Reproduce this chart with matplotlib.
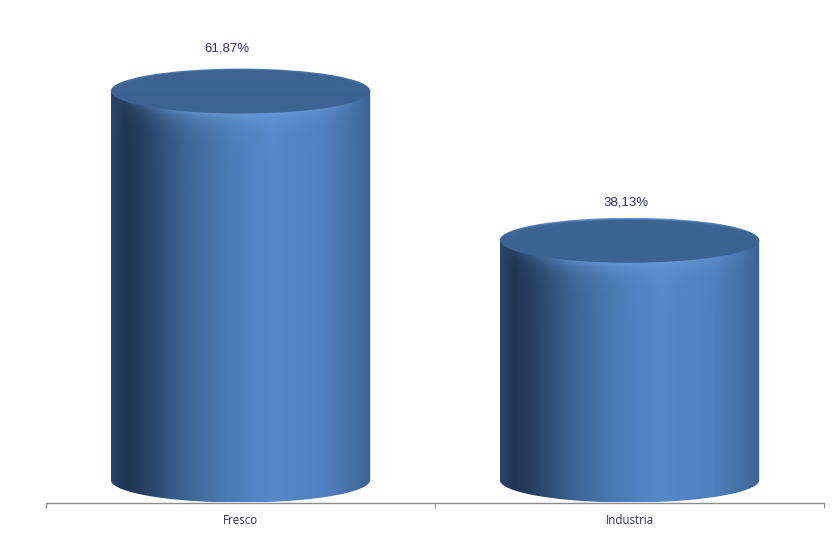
import numpy as np
from matplotlib import pyplot as plt
from matplotlib.colors import LinearSegmentedColormap, to_rgb
from matplotlib.patches import Ellipse, PathPatch
from matplotlib.path import Path

categories = ['Fresco', 'Industria']
values = [61.87, 38.13]
value_labels = ['61,87%', '38,13%']

txtcol = '#2f2d72'
shade = LinearSegmentedColormap.from_list('cyl', [
    (0.0, '#2a4568'), (0.05, '#1f3553'), (0.12, '#263f60'), (0.28, '#3d6494'),
    (0.45, '#4a7cb6'), (0.62, '#5689cb'), (0.82, '#4f80bf'), (0.93, '#4571a8'),
    (1.0, '#3c6493')])
topcol = np.array(to_rgb('#3c6392'))
rimcol = np.array(to_rgb('#6d9fdc'))

W, H = 839, 538
fig = plt.figure(figsize=(W/100, H/100), dpi=100)
# axes runs from the axis line (y=502.5px) up to the top of the picture
ax = fig.add_axes([46/W, 1-502.5/H, 778/W, 502.5/H])
pxy = 6.287                     # pixels per percent
pxx = 389.0                     # pixels per category
ax.set_xlim(-0.5, 1.5)
ax.set_ylim(-22.5/pxy, 480/pxy)
rx = 129.7/pxx
ry = 22.5/pxy

for i, v in enumerate(values):
    # body : rectangle + lower half of the base ellipse
    t = np.linspace(np.pi, 2*np.pi, 60)
    verts = [(i-rx, v), (i-rx, 0)] + list(zip(i+rx*np.cos(t), ry*np.sin(t))) + [(i+rx, v), (i-rx, v)]
    body = PathPatch(Path(verts), fc='none', ec='none')
    ax.add_patch(body)
    xs = np.linspace(-1, 1, 260)
    ys = np.linspace(v+ry, -ry, int((v+2*ry)*pxy))
    X, Y = np.meshgrid(xs, ys)
    img = shade((X+1)/2)[:, :, :3]
    # bright band just under the front edge of the top ellipse
    edge = v-ry*np.sqrt(np.clip(1-X**2, 0, 1))
    d = np.clip(edge-Y, 0, None)*pxy
    glow = np.exp(-d/9.0)*np.clip(1-X**2, 0, 1)**1.2*0.8
    img = img*(1-glow[..., None])+rimcol*glow[..., None]
    im = ax.imshow(img, extent=(i-rx, i+rx, -ry, v+ry), aspect='auto', origin='upper',
                   interpolation='bilinear', zorder=2)
    im.set_clip_path(body)

    # top ellipse : flat colour with a lighter rim at the back
    top = Ellipse((i, v), 2*rx, 2*ry, fc='none', ec='none')
    ax.add_patch(top)
    ys2 = np.linspace(1, -1, 48)
    X2, Y2 = np.meshgrid(xs, ys2)
    r = np.sqrt(X2**2+Y2**2)
    rim = np.clip((r-0.90)/0.10, 0, 1)**2*np.clip(Y2, 0, 1)**2*0.9
    img2 = topcol[None, None, :]*(1-rim[..., None])+rimcol*rim[..., None]
    im2 = ax.imshow(img2, extent=(i-rx, i+rx, v-ry, v+ry), aspect='auto', origin='upper',
                    interpolation='bilinear', zorder=3)
    im2.set_clip_path(top)

ax.annotate(value_labels[0], (0, values[0]+ry), xytext=(-13.5, 20), textcoords='offset pixels',
            ha='center', va='center', color=txtcol, fontsize=9.5, family='Liberation Sans', zorder=4)
ax.annotate(value_labels[1], (1, values[1]+ry), xytext=(-3, 15.5), textcoords='offset pixels',
            ha='center', va='center', color=txtcol, fontsize=9.5, family='Liberation Sans', zorder=4)

ax.set_xlim(-0.5, 1.5)
ax.set_ylim(-22.5/pxy, 480/pxy)
for s in ['top', 'left', 'right']:
    ax.spines[s].set_visible(False)
ax.spines['bottom'].set_color('#8c8c8c')
ax.spines['bottom'].set_linewidth(1.0)
ax.spines['bottom'].set_zorder(5)
ax.set_yticks([])
ax.set_xticks([-0.5, 0.5, 1.5])
ax.set_xticklabels([])
ax.tick_params(axis='x', length=3.5, width=0.8, color='#8c8c8c')
ax.set_xticks([0, 1], labels=categories, minor=True)
ax.tick_params(axis='x', which='minor', length=0, pad=8.5, labelsize=8.3, labelcolor=txtcol)
for lab in ax.get_xminorticklabels():
    lab.set_family('Open Sans')

fig.savefig('out.png', dpi=100)
